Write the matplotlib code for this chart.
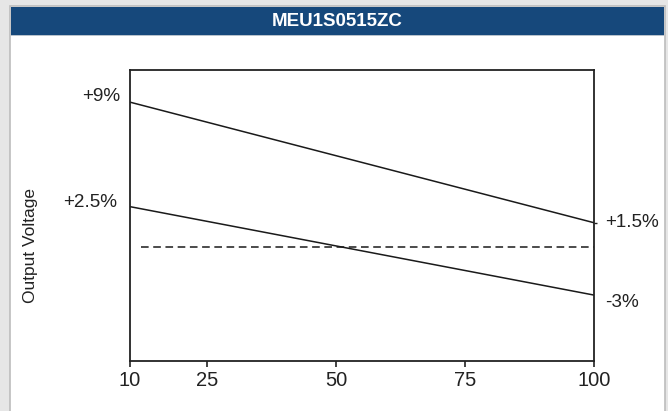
import matplotlib
matplotlib.use("Agg")
import matplotlib.pyplot as plt
from matplotlib.patches import Rectangle

# load current (%) and output voltage deviation (%)
x_ticks = [10, 25, 50, 75, 100]
load = [10, 100]
upper_limit = [9, 1.5]
lower_limit = [2.5, -3]
nominal = [0, 0]
left_labels = ["+9%", "+2.5%"]
right_labels = ["+1.5%", "-3%"]
title = "MEU1S0515ZC"

W, H = 668, 411
fig = plt.figure(figsize=(W / 100, H / 100), dpi=100)
fig.patch.set_facecolor("#e6e6e6")


def px(x, y):
    # pixel position (top-left origin) -> figure fraction
    return x / W, 1 - y / H


# white panel with header bar (behind the axes)
fig.add_artist(Rectangle(px(10, 420), 655 / W, 414 / H, transform=fig.transFigure,
                         facecolor="white", edgecolor="#bcbcbc", lw=1.2, zorder=-10))
fig.add_artist(Rectangle(px(11, 35), 653 / W, 28 / H, transform=fig.transFigure,
                         facecolor="#16487b", edgecolor="none", zorder=-9))
fig.add_artist(Rectangle(px(11, 36.2), 653 / W, 1.2 / H, transform=fig.transFigure,
                         facecolor="#b8c2cc", edgecolor="none", zorder=-9))
fig.text(*px(337, 21), title, color="white", fontsize=13.5, fontweight="bold",
         family=["Liberation Sans", "DejaVu Sans"], ha="center", va="center")

ax = fig.add_axes([130 / W, 1 - 361 / H, 464 / W, 291 / H])
ax.set_facecolor("white")

ax.plot(load, upper_limit, color="#1a1a1a", lw=1.1)
ax.plot(load, lower_limit, color="#1a1a1a", lw=1.1)
ax.plot([12.2, 100], nominal, color="#1a1a1a", lw=1.1, dashes=(5, 3))

ax.set_xlim(10, 100)
ax.set_ylim(-7.1, 11.0)

for s in ax.spines.values():
    s.set_color("#222222")
    s.set_linewidth(1.3)

ax.set_xticks(x_ticks)
ax.set_xticklabels([str(t) for t in x_ticks], fontsize=14.5,
                   family=["Liberation Sans", "DejaVu Sans"], color="#222222")
ax.tick_params(axis="x", direction="out", length=4, width=1.2, pad=3, color="#222222")
ax.set_yticks([1.5])
ax.set_yticklabels([])
ax.tick_params(axis="y", left=False, right=True, direction="out", length=2.5,
               width=1, color="#222222")

lab = dict(fontsize=13.6, family=["Liberation Sans", "DejaVu Sans"], color="#222222",
           textcoords="offset pixels", va="center", annotation_clip=False)
ax.annotate(left_labels[0], (load[0], upper_limit[0]), xytext=(-10, 6), ha="right", **lab)
ax.annotate(left_labels[1], (load[0], lower_limit[0]), xytext=(-13, 4), ha="right", **lab)
ax.annotate(right_labels[0], (load[1], upper_limit[1]), xytext=(11, 0), ha="left", **lab)
ax.annotate(right_labels[1], (load[1], lower_limit[1]), xytext=(11, -7), ha="left", **lab)

fig.text(*px(31, 245), "Output Voltage", rotation=90, fontsize=12.5,
         family=["Liberation Sans", "DejaVu Sans"], color="#222222",
         ha="center", va="center")

fig.savefig("out.png", dpi=100, facecolor=fig.get_facecolor())
